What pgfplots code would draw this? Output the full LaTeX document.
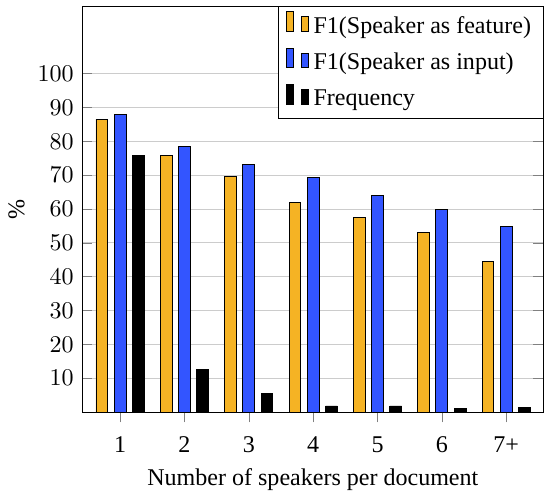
\documentclass[border=0pt]{standalone}
\usepackage{fontspec}
\setmainfont{Liberation Serif}
\usepackage{pgfplots}
\pgfplotsset{compat=1.18}
\definecolor{forange}{HTML}{F5B324}
\definecolor{fblue}{HTML}{3355FF}
\begin{document}
\begin{tikzpicture}
\begin{axis}[
  scale only axis,
  width=192pt, height=169pt,
  ybar=2.7pt, bar width=4.9pt,
  ymin=0, ymax=120,
  xmin=-0.59, xmax=6.58,
  xtick={0,1,2,3,4,5,6},
  xticklabels={1,2,3,4,5,6,7+},
  xtick pos=bottom, xtick align=outside,
  xticklabel shift=2.5pt,
  ytick={10,20,...,100},
  ytick align=inside,
  ymajorgrids, grid style={gray!40},
  major tick style={gray},
  xlabel={Number of speakers per document},
  xlabel shift=-0.3pt,
  ylabel={\%},
  ylabel shift=-1.5pt,
  legend style={at={(1,1)}, anchor=north east, draw=black, font=\normalsize, row sep=2.7pt},
  legend cell align=left,
]
\addplot[fill=forange, draw=black] coordinates {(0,86.6) (1,75.9) (2,69.6) (3,61.9) (4,57.4) (5,53.2) (6,44.6)};
\addplot[fill=fblue, draw=black] coordinates {(0,87.8) (1,78.5) (2,73.2) (3,69.4) (4,64.1) (5,59.9) (6,54.8)};
\addplot[fill=black, draw=black] coordinates {(0,75.8) (1,12.6) (2,5.4) (3,1.8) (4,1.8) (5,1.2) (6,1.5)};
\legend{F1(Speaker as feature), F1(Speaker as input), Frequency}
\end{axis}
\path (current axis.south west) ++(-34.2pt,-33pt);
\path (current axis.north east) ++(0,2.5pt);
\end{tikzpicture}
\end{document}
